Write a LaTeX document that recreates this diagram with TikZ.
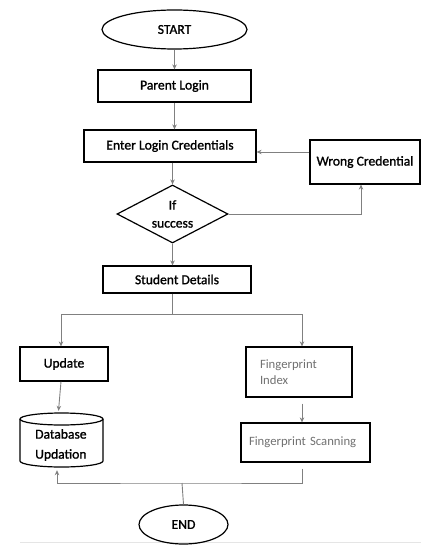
\documentclass[tikz,border=0pt]{standalone}
\usepackage{fontspec}
\setmainfont{Carlito}
\newfontfamily\heavy{Carlito}[FakeBold=1.3]
\usetikzlibrary{shapes.geometric,arrows.meta}
\definecolor{lnk}{HTML}{808080}
\definecolor{fptext}{HTML}{707070}
\tikzset{
  boxed/.style={draw=black, line width=1.2pt, rectangle, inner sep=0pt, font=\heavy\fontsize{13.6}{16.5}\selectfont},
  oval/.style={draw=black, line width=1.2pt, ellipse, inner sep=0pt, font=\heavy\fontsize{13.6}{16.5}\selectfont},
  fpbox/.style={draw=black, line width=1.2pt, rectangle, inner sep=0pt, align=left, text=fptext, font=\fontsize{12.7}{16}\selectfont},
  link/.style={draw=lnk, line width=0.9pt},
  arr/.style={link, -{Stealth[length=5pt,width=4.5pt]}},
}
\begin{document}
\begin{tikzpicture}[x=1pt,y=1pt]
\useasboundingbox (0,0) rectangle (421,-545);
\draw[color=black!10, line width=0.8pt] (20,-542) -- (421,-542);

\node[oval, minimum width=145pt, minimum height=39pt] (start) at (174.5,-29.5) {START};
\node[boxed, minimum width=153pt, minimum height=32pt] (parent) at (174.5,-86) {Parent Login};
\node[boxed, minimum width=172pt, minimum height=32pt] (enter) at (170,-146) {Enter Login Credentials};
\node[boxed, minimum width=110pt, minimum height=44pt] (wrong) at (365,-162) {Wrong Credential};
\node[draw=black, line width=1.2pt, diamond, inner sep=0pt, aspect=1.9, minimum width=111pt, minimum height=58pt,
      align=center, font=\heavy\fontsize{13.6}{18}\selectfont] (dec) at (172.5,-214) {If\\success};
\node[boxed, minimum width=148pt, minimum height=27pt] (student) at (177,-279.5) {Student Details};
\node[boxed, minimum width=88pt, minimum height=34pt] (update) at (64,-364) {Update};
\node[fpbox, minimum height=50pt, text width=78pt, inner xsep=14pt] (fpi) at (299,-372) {Fingerprint\\Index};
\node[fpbox, minimum height=39pt, text width=113pt, inner xsep=8pt] (fps) at (305.5,-442.5) {Fingerprint Scanning};

% database cylinder
\draw[black, line width=1.2pt] (61.5,-419) ellipse [x radius=41.5pt, y radius=6pt];
\draw[black, line width=1.2pt] (20,-419) -- (20,-461) arc[start angle=180, end angle=360, x radius=41.5pt, y radius=6pt] -- (103,-419);
\node[minimum width=83pt, minimum height=54pt, inner sep=0pt] (db) at (61.5,-440) {};
\node[anchor=west, align=left, inner sep=0pt, font=\heavy\fontsize{13.6}{20}\selectfont] (dbt) at (35,-445) {Database\\Updation};

\node[oval, minimum width=89pt, minimum height=39pt] (end) at (183.5,-524.5) {END};

% connectors
\draw[arr] (start.south) -- (parent.north);
\draw[arr] (parent.south) -- (parent.south |- enter.north);
\draw[arr] (dec.north |- enter.south) -- (dec.north);
\draw[arr] (dec.south) -- (dec.south |- student.north);
\draw[arr] (dec.east) -| ([xshift=-4pt]wrong.south);
\draw[arr] ([yshift=10pt]wrong.west) -- ([yshift=10pt]wrong.west -| enter.east);
\coordinate (split) at (172,-314);
\draw[link] (student.south -| split) -- (split);
\draw[arr] (split) -| ([xshift=-3pt]update.north);
\draw[arr] (split) -| ([xshift=3pt]fpi.north);
\draw[arr] ([xshift=-3pt]update.south) -- ([xshift=-3pt,yshift=2pt]db.north);
\draw[arr] ([xshift=3pt,yshift=-6pt]fpi.south) -- ([xshift=3pt]fpi.south |- fps.north);
\coordinate (join) at (182,-483);
\draw[arr] ([xshift=-3.5pt,yshift=-6pt]fps.south) |- (join) -| ([xshift=-4.5pt,yshift=-3pt]db.south);
\draw[link] (join) -- (end.north);
\end{tikzpicture}
\end{document}
